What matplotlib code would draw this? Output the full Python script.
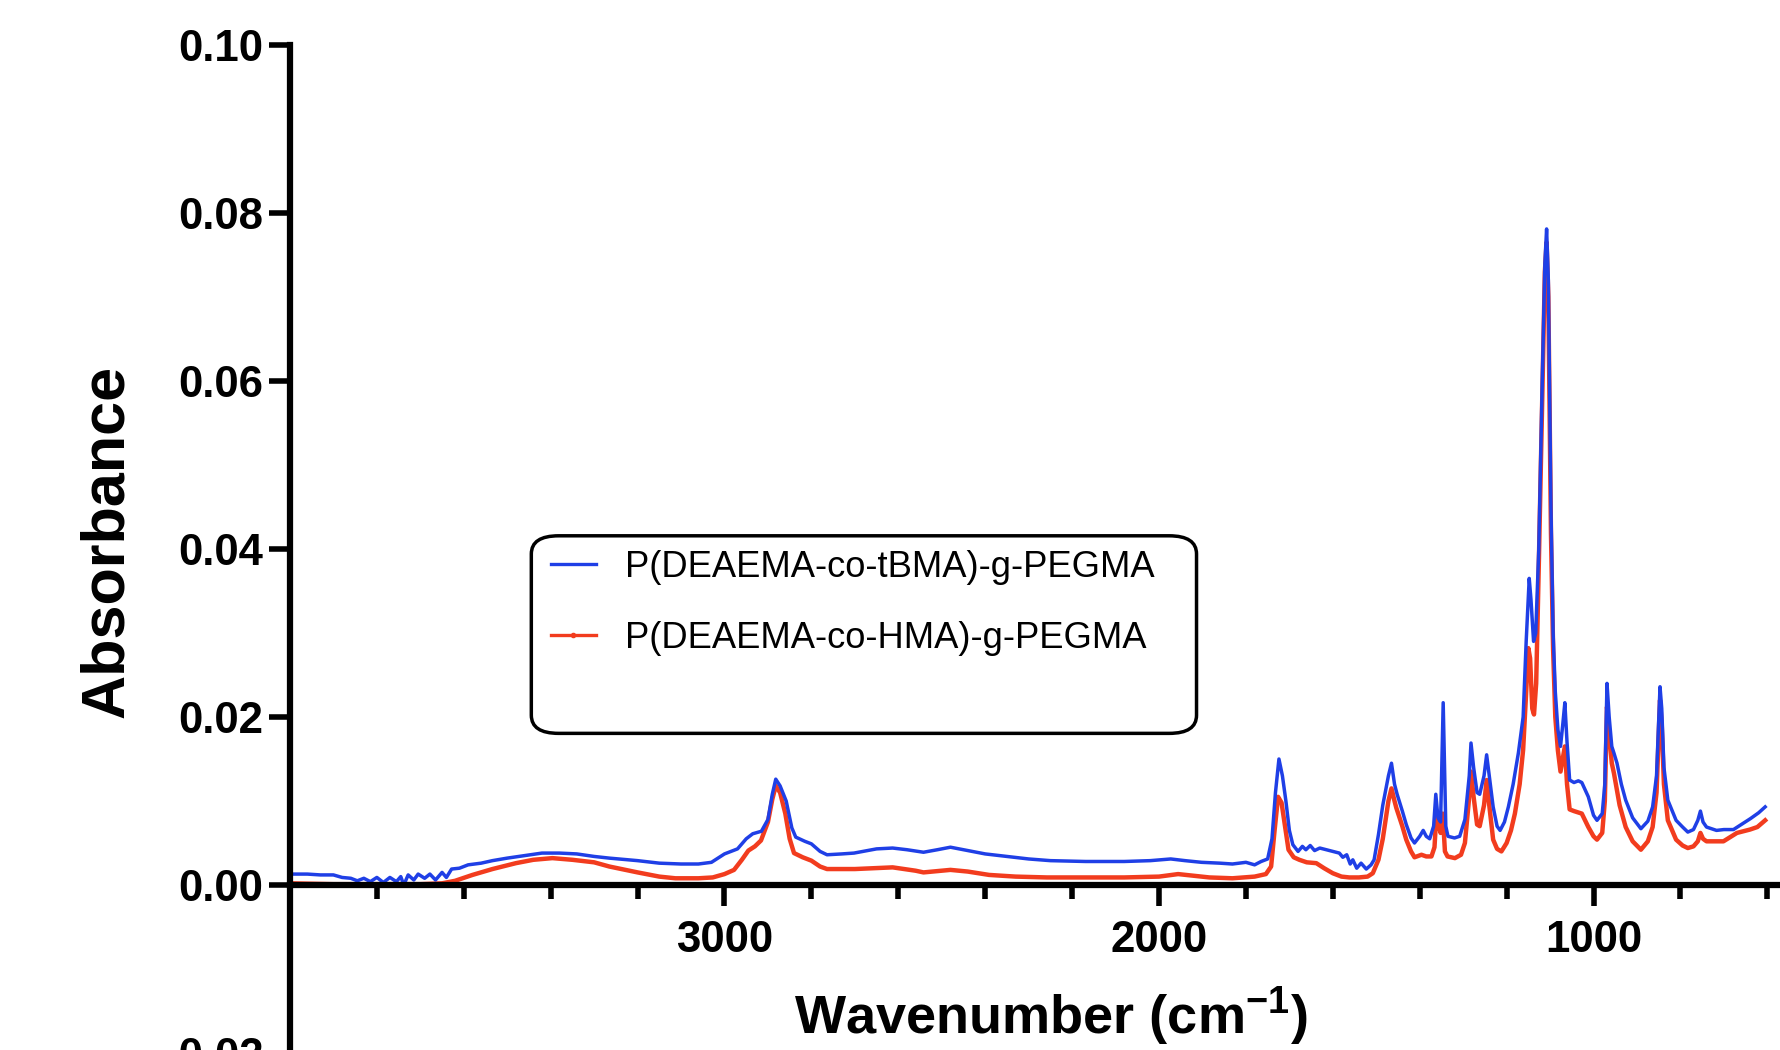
import numpy as np
import matplotlib
matplotlib.use('Agg')
import matplotlib.pyplot as plt
from matplotlib.lines import Line2D
from matplotlib.patches import FancyBboxPatch

#______________________________ DATOS ______________________________
# P(DEAEMA-co-tBMA)-g-PEGMA (azul)
wn_tbma = [3995, 3960, 3930, 3900, 3880, 3860, 3845, 3830, 3815, 3800, 3785, 3770,
           3755, 3745, 3738, 3728, 3715, 3705, 3690, 3678, 3665, 3650, 3640, 3628,
           3610, 3590, 3560, 3534, 3500, 3460, 3420, 3380, 3340, 3300, 3265, 3200,
           3150, 3100, 3060, 3030, 3000, 2970, 2950, 2935, 2915, 2900, 2890, 2882,
           2872, 2858, 2845, 2836, 2815, 2800, 2780, 2764, 2730, 2702, 2650, 2613,
           2580, 2542, 2510, 2480, 2450, 2400, 2350, 2300, 2250, 2169, 2080, 2020,
           1973, 1940, 1902, 1860, 1831, 1800, 1780, 1765, 1750, 1740, 1732, 1724,
           1716, 1708, 1700, 1692, 1680, 1670, 1662, 1652, 1642, 1630, 1615, 1600,
           1585, 1577, 1568, 1560, 1554, 1545, 1535, 1523, 1512, 1505, 1495, 1485,
           1472, 1465, 1458, 1452, 1440, 1431, 1420, 1412, 1400, 1392, 1385, 1377,
           1368, 1363, 1358, 1352, 1346, 1340, 1335, 1320, 1308, 1296, 1286, 1282,
           1276, 1268, 1262, 1252, 1246, 1240, 1231, 1222, 1215, 1205, 1196, 1185,
           1173, 1162, 1155, 1148, 1144, 1138, 1133, 1126, 1118, 1112, 1108, 1104,
           1098, 1093, 1088, 1082, 1076, 1071, 1066, 1061, 1055, 1045, 1035, 1027,
           1012, 1000, 992, 980, 974, 969, 964, 958, 953, 946, 936, 926,
           910, 891, 875, 864, 855, 847, 843, 838, 829, 810, 795, 783,
           770, 760, 754, 748, 740, 717, 700, 678, 660, 639, 620, 605]
abs_tbma = [0.0013, 0.0013, 0.0012, 0.0012, 0.0009, 0.0008, 0.0005, 0.0008, 0.0004, 0.0009, 0.0003, 0.0009,
            0.0004, 0.0010, 0.0000, 0.0012, 0.0006, 0.0013, 0.0008, 0.0013, 0.0006, 0.0015, 0.0009, 0.0019,
            0.0020, 0.0024, 0.0026, 0.0029, 0.0032, 0.0035, 0.0038, 0.0038, 0.0037, 0.0034, 0.0032, 0.0029,
            0.0026, 0.0025, 0.0025, 0.0027, 0.0037, 0.0043, 0.0055, 0.0061, 0.0064, 0.0078, 0.0108, 0.0126,
            0.0118, 0.0100, 0.0068, 0.0057, 0.0052, 0.0049, 0.0040, 0.0036, 0.0037, 0.0038, 0.0043, 0.0044,
            0.0042, 0.0039, 0.0042, 0.0045, 0.0042, 0.0037, 0.0034, 0.0031, 0.0029, 0.0028, 0.0028, 0.0029,
            0.0031, 0.0029, 0.0027, 0.0026, 0.0025, 0.0027, 0.0024, 0.0028, 0.0031, 0.0055, 0.0110, 0.0150,
            0.0130, 0.0100, 0.0065, 0.0048, 0.0040, 0.0046, 0.0042, 0.0047, 0.0041, 0.0044, 0.0042, 0.0040,
            0.0038, 0.0033, 0.0036, 0.0025, 0.0030, 0.0020, 0.0026, 0.0019, 0.0024, 0.0030, 0.0060, 0.0095,
            0.0130, 0.0145, 0.0120, 0.0108, 0.0088, 0.0072, 0.0056, 0.0050, 0.0058, 0.0065, 0.0058, 0.0055,
            0.0070, 0.0108, 0.0080, 0.0075, 0.0217, 0.0070, 0.0058, 0.0056, 0.0058, 0.0078, 0.0130, 0.0169,
            0.0140, 0.0110, 0.0108, 0.0130, 0.0155, 0.0130, 0.0093, 0.0070, 0.0065, 0.0075, 0.0093, 0.0120,
            0.0157, 0.0200, 0.0290, 0.0365, 0.0340, 0.0290, 0.0300, 0.0400, 0.0600, 0.0740, 0.0781, 0.0720,
            0.0450, 0.0300, 0.0230, 0.0185, 0.0165, 0.0190, 0.0217, 0.0170, 0.0125, 0.0122, 0.0124, 0.0122,
            0.0105, 0.0083, 0.0077, 0.0085, 0.0120, 0.0240, 0.0200, 0.0165, 0.0157, 0.0145, 0.0120, 0.0101,
            0.0080, 0.0067, 0.0076, 0.0093, 0.0130, 0.0236, 0.0210, 0.0140, 0.0101, 0.0077, 0.0069, 0.0063,
            0.0066, 0.0077, 0.0088, 0.0075, 0.0069, 0.0065, 0.0066, 0.0066, 0.0072, 0.0079, 0.0086, 0.0093]

# P(DEAEMA-co-HMA)-g-PEGMA (rojo)
wn_hma = [3995, 3900, 3800, 3700, 3650, 3620, 3580, 3534, 3480, 3440, 3396, 3350,
          3300, 3265, 3200, 3150, 3113, 3060, 3027, 3000, 2978, 2960, 2945, 2930,
          2916, 2900, 2890, 2882, 2872, 2860, 2850, 2840, 2820, 2800, 2780, 2764,
          2700, 2613, 2560, 2542, 2500, 2480, 2440, 2391, 2330, 2258, 2150, 2080,
          2000, 1956, 1920, 1884, 1831, 1780, 1754, 1742, 1734, 1726, 1718, 1710,
          1702, 1690, 1677, 1660, 1638, 1620, 1600, 1580, 1562, 1540, 1520, 1508,
          1495, 1485, 1472, 1465, 1458, 1454, 1440, 1431, 1420, 1412, 1396, 1385,
          1373, 1366, 1362, 1356, 1352, 1347, 1342, 1336, 1319, 1305, 1296, 1287,
          1282, 1276, 1268, 1262, 1252, 1246, 1240, 1231, 1222, 1212, 1200, 1190,
          1181, 1170, 1162, 1156, 1150, 1146, 1141, 1137, 1132, 1126, 1118, 1112,
          1108, 1104, 1098, 1093, 1088, 1082, 1076, 1071, 1066, 1061, 1055, 1045,
          1027, 1012, 1000, 992, 980, 974, 969, 964, 958, 953, 940, 926,
          910, 891, 875, 864, 855, 847, 843, 838, 829, 810, 795, 783,
          770, 760, 754, 748, 740, 701, 670, 640, 623, 605]
abs_hma = [0.0002, 0.0001, 0.0001, 0.0001, 0.0002, 0.0005, 0.0012, 0.0019, 0.0026, 0.0030, 0.0032, 0.0030,
           0.0027, 0.0022, 0.0015, 0.0010, 0.0008, 0.0008, 0.0009, 0.0013, 0.0018, 0.0030, 0.0041, 0.0046,
           0.0053, 0.0075, 0.0102, 0.0118, 0.0110, 0.0085, 0.0055, 0.0038, 0.0033, 0.0029, 0.0022, 0.0019,
           0.0019, 0.0021, 0.0017, 0.0015, 0.0017, 0.0018, 0.0016, 0.0012, 0.0010, 0.0009, 0.0009, 0.0009,
           0.0010, 0.0013, 0.0011, 0.0009, 0.0008, 0.0010, 0.0013, 0.0022, 0.0065, 0.0105, 0.0098, 0.0070,
           0.0042, 0.0033, 0.0030, 0.0027, 0.0026, 0.0020, 0.0014, 0.0010, 0.0009, 0.0009, 0.0010, 0.0014,
           0.0030, 0.0055, 0.0100, 0.0115, 0.0100, 0.0092, 0.0070, 0.0054, 0.0040, 0.0033, 0.0036, 0.0034,
           0.0034, 0.0045, 0.0081, 0.0070, 0.0062, 0.0085, 0.0040, 0.0034, 0.0032, 0.0036, 0.0050, 0.0100,
           0.0135, 0.0105, 0.0072, 0.0070, 0.0095, 0.0125, 0.0095, 0.0054, 0.0043, 0.0040, 0.0050, 0.0065,
           0.0085, 0.0120, 0.0161, 0.0220, 0.0282, 0.0270, 0.0210, 0.0203, 0.0240, 0.0380, 0.0580, 0.0730,
           0.0765, 0.0700, 0.0420, 0.0280, 0.0200, 0.0160, 0.0135, 0.0150, 0.0165, 0.0120, 0.0090, 0.0088,
           0.0085, 0.0069, 0.0058, 0.0054, 0.0062, 0.0100, 0.0212, 0.0180, 0.0145, 0.0133, 0.0095, 0.0069,
           0.0052, 0.0042, 0.0052, 0.0069, 0.0110, 0.0220, 0.0190, 0.0120, 0.0077, 0.0054, 0.0047, 0.0044,
           0.0046, 0.0052, 0.0062, 0.0055, 0.0052, 0.0052, 0.0062, 0.0066, 0.0069, 0.0077]

etiquetas = ['P(DEAEMA-co-tBMA)-g-PEGMA', 'P(DEAEMA-co-HMA)-g-PEGMA']
yticks = [-0.02, 0.00, 0.02, 0.04, 0.06, 0.08, 0.10]
xticks_may = [3000, 2000, 1000]

#______________________________ ESTILO ______________________________
azul = '#1f3fe6'
rojo = '#f23c1e'
fuente = 'Liberation Sans'

plt.rcParams['mathtext.fontset'] = 'custom'
plt.rcParams['mathtext.rm'] = 'Liberation Sans:bold'
plt.rcParams['mathtext.bf'] = 'Liberation Sans:bold'

#______________________________ GRAFICO ______________________________
fig = plt.figure(figsize=(17.8, 10.5), dpi=100)
ax = fig.add_axes([0.1629, -0.00286, 0.8544, 0.96])

ax.plot(wn_hma, abs_hma, color=rojo, lw=3.2, solid_joinstyle='round')
ax.plot(wn_tbma, abs_tbma, color=azul, lw=2.5, solid_joinstyle='round')

ax.set_xlim(4000, 500)
ax.set_ylim(-0.02, 0.10)

# ejes estilo prism
for s in ['top', 'right']:
    ax.spines[s].set_visible(False)
ax.spines['bottom'].set_position(('data', 0))
ax.spines['left'].set_linewidth(4.5)
ax.spines['bottom'].set_linewidth(4.5)

ax.set_yticks(yticks)
ax.set_yticklabels(['%.2f' % v for v in yticks])
ax.set_xticks(xticks_may)
ax.set_xticks(np.arange(3800, 500, -200), minor=True)
ax.tick_params(axis='both', which='major', length=15, width=4, direction='out')
ax.tick_params(axis='x', which='minor', length=10, width=4, direction='out')
ax.tick_params(axis='y', which='major', pad=4)
ax.tick_params(axis='x', which='major', pad=10)

for lab in ax.get_yticklabels() + ax.get_xticklabels():
    lab.set_fontfamily(fuente)
    lab.set_fontweight('bold')
    lab.set_fontsize(31.5)

ax.set_ylabel('Absorbance', fontfamily=fuente, fontweight='bold', fontsize=44)
ax.yaxis.label.set_va('center')
ax.yaxis.set_label_coords(-0.12, 0.508)

ax.set_xlabel('Wavenumber (cm$^{\\mathbf{-1}}$)', fontfamily=fuente, fontweight='bold', fontsize=39)
ax.xaxis.set_label_coords(0.5, 0.068)
ax.xaxis.label.set_va('top')

# leyenda sin marco + caja redondeada aparte
h1 = Line2D([], [], color=azul, lw=2.4)
h2 = Line2D([], [], color=rojo, lw=2.4, marker='o', markersize=3)
leg = ax.legend([h1, h2], etiquetas, loc='upper left',
                bbox_to_anchor=(0.1714, 0.4993), borderaxespad=0, borderpad=0,
                prop={'family': fuente, 'size': 26.2},
                handlelength=1.25, handletextpad=0.8, labelspacing=1.0,
                frameon=False)

caja = FancyBboxPatch((0.1587, 0.3171), 0.5961 - 0.1587, 0.5131 - 0.3171,
                      boxstyle='round,pad=0,rounding_size=0.018',
                      transform=ax.transAxes, facecolor='none',
                      edgecolor='black', linewidth=2.5, zorder=5)
ax.add_patch(caja)

plt.savefig('out.png', dpi=100)
